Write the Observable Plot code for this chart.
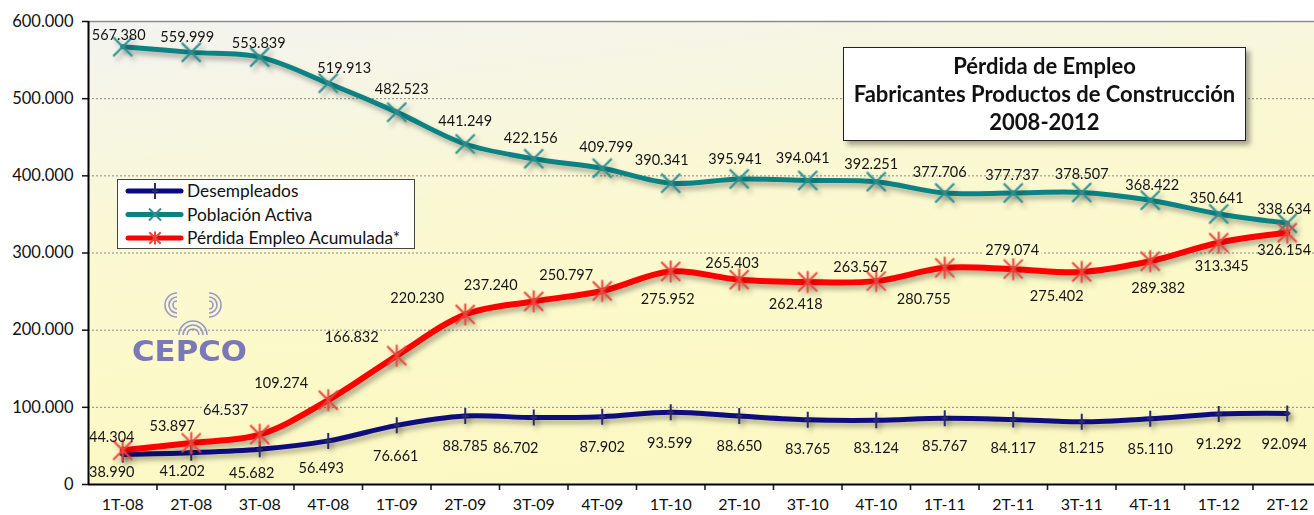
<!DOCTYPE html>
<html><head><meta charset="utf-8">
<script src="https://cdn.jsdelivr.net/npm/d3@7"></script>
<script src="https://cdn.jsdelivr.net/npm/@observablehq/plot@0.6"></script>
<style>
html,body{margin:0;padding:0;background:#fff;overflow:hidden;}
#wrap{position:relative;width:1314px;height:515px;overflow:hidden;font-family:Lato,"Open Sans",sans-serif;}
#chart{position:absolute;left:0;top:0;}
#title{position:absolute;left:843px;top:47px;width:401px;height:92px;background:#fff;border:1px solid #222;
  box-shadow:4px 4px 5px rgba(0,0,0,0.35);display:flex;flex-direction:column;justify-content:center;align-items:center;
  font-weight:bold;font-size:22px;line-height:28px;color:#111;text-align:center;white-space:nowrap;}
#legend{position:absolute;left:117px;top:179px;width:296px;height:68px;background:#fff;border:1px solid #444;}
#logo{position:absolute;left:125px;top:283px;}
</style></head><body>
<div id="wrap">
  <div id="chart"></div>
  <div id="logo"></div>
  <div id="legend"></div>
  <div id="title"><div>Pérdida de Empleo</div><div>Fabricantes Productos de Construcción</div><div>2008-2012</div></div>
</div>
<script>
// ---- data ----
const categories = ["1T-08","2T-08","3T-08","4T-08","1T-09","2T-09","3T-09","4T-09","1T-10","2T-10","3T-10","4T-10","1T-11","2T-11","3T-11","4T-11","1T-12","2T-12"];
const desempleados = [38990,41202,45682,56493,76661,88785,86702,87902,93599,88650,83765,83124,85767,84117,81215,85110,91292,92094];
const poblacionActiva = [567380,559999,553839,519913,482523,441249,422156,409799,390341,395941,394041,392251,377706,377737,378507,368422,350641,338634];
const perdidaEmpleo = [44304,53897,64537,109274,166832,220230,237240,250797,275952,265403,262418,263567,280755,279074,275402,289382,313345,326154];
const yTicks = [0,100000,200000,300000,400000,500000,600000];
const seriesNames = ["Desempleados","Población Activa","Pérdida Empleo Acumulada*"];

// label placement offsets (px) relative to each point
const desLabelDx = [-11,-9,-8,-7,-1,0,-18,0,-1,0,0,0,0,0,0,0,0,-3];
const desLabelDy = [18,19,24,27,31,30,31,31,31,30,29,28,28,29,27,31,30,31];
const pobLabelDx = [-4,-4,-1,16,5,0,-3,4,-9,-4,-5,-5,-5,-1,0,2,-2,-3];
const pobLabelDy = [-11,-15,-14,-15,-23,-23,-20,-21,-23,-20,-22,-17,-21,-18,-18,-15,-16,-14];
const perLabelDx = [-11,-19,-34,-47,-45,-48,-43,-36,-3,-7,-12,-16,-21,-1,-25,8,3,-3];
const perLabelDy = [-13,-17,-24,-17,-18,-16,-16,-16,28,-16,22,-14,32,-19,24,27,24,18];
const perLabelHalo = [0,0,1,0,0,0,0,0,0,0,0,0,0,1,0,0,0,0];

const colors = {des:"#0a0a80", pob:"#0a8282", per:"#ff0000"};
const markerColors = {des:"#2a2a6c", pob:"#2f8e8e", per:"#e8453c"};

// ---- symbols ----
const symX = {draw(ctx, size){const r=Math.sqrt(size/Math.PI); ctx.moveTo(-r,-r);ctx.lineTo(r,r);ctx.moveTo(-r,r);ctx.lineTo(r,-r);}};
const symAst = {draw(ctx, size){const r=Math.sqrt(size/Math.PI); const a=r*0.95; ctx.moveTo(-a,-a);ctx.lineTo(a,a);ctx.moveTo(-a,a);ctx.lineTo(a,-a);ctx.moveTo(0,-r*1.1);ctx.lineTo(0,r*1.1);}};
const symTick = {draw(ctx, size){const r=Math.sqrt(size/Math.PI); ctx.moveTo(0,-r);ctx.lineTo(0,r);ctx.moveTo(-r*0.4,0);ctx.lineTo(r*0.4,0);}};

const mk = (vals) => vals.map((v,i)=>({i:i+0.5, v, cat:categories[i]}));
const desData = mk(desempleados), pobData = mk(poblacionActiva), perData = mk(perdidaEmpleo);
const fmt = v => d3.format(",")(v).replace(/,/g,".");

function labels(data, dxs, dys, halo){
  return data.map((d,k)=>Plot.text([d],{x:"i",y:"v",text:dd=>fmt(dd.v),dx:dxs[k],dy:dys[k],fontSize:14.5,fill:"#151515",
    ...(halo && halo[k] ? {stroke:"#fbf9ce",strokeWidth:6} : {})}));
}

const chart = Plot.plot({
  width:1314, height:515,
  marginTop:21, marginBottom:31, marginLeft:88, marginRight:0,
  style:{fontFamily:"Lato, 'Open Sans', sans-serif", color:"#111", background:"transparent", overflow:"hidden"},
  x:{domain:[0,18], range:[88,1321], label:null},
  y:{domain:[0,600000], label:null},
  marks:[
    Plot.frame({fill:"url(#bgGrad)", stroke:null}),
    Plot.ruleY(yTicks.filter(t=>t>0 && t<600000),{stroke:"#8a8a8a",strokeWidth:1,strokeDasharray:"2,2"}),
    Plot.ruleY([600000],{stroke:"#8c8c8c",strokeWidth:1.5}),
    Plot.axisY({ticks:yTicks, tickFormat:fmt, tickSize:6, tickPadding:9, fontSize:16.5, strokeWidth:1.5, stroke:"#111", label:null}),
    Plot.axisX({ticks:d3.range(1,19), tickFormat:()=>"", tickSize:6, strokeWidth:1.6, stroke:"#222", label:null}),
    Plot.axisX({ticks:categories.map((_,i)=>i+0.5), tickFormat:d=>categories[Math.floor(d)], tickSize:0, tickPadding:14, fontSize:16, label:null}),
    Plot.ruleX([0],{stroke:"#000",strokeWidth:2}),
    Plot.ruleY([0],{stroke:"#000",strokeWidth:2}),
    // series
    Plot.line(desData,{x:"i",y:"v",stroke:colors.des,strokeWidth:5,curve:"catmull-rom"}),
    Plot.dot(desData,{x:"i",y:"v",symbol:symTick,r:8,stroke:markerColors.des,strokeWidth:2,fill:"none"}),
    Plot.line(pobData,{x:"i",y:"v",stroke:colors.pob,strokeWidth:5,curve:"catmull-rom"}),
    Plot.dot(pobData,{x:"i",y:"v",symbol:symX,r:9.5,stroke:markerColors.pob,strokeWidth:2.2,fill:"none"}),
    Plot.line(perData,{x:"i",y:"v",stroke:colors.per,strokeWidth:6,curve:"catmull-rom"}),
    Plot.dot(perData,{x:"i",y:"v",symbol:symAst,r:10,stroke:markerColors.per,strokeWidth:2,fill:"none"}),
    ...labels(desData,desLabelDx,desLabelDy),
    ...labels(pobData,pobLabelDx,pobLabelDy),
    ...labels(perData,perLabelDx,perLabelDy,perLabelHalo)
  ]
});
document.getElementById("chart").appendChild(chart);

// defs: gradient and shadow
const svg = d3.select(chart);
const defs = svg.insert("defs",":first-child");
const grad = defs.append("linearGradient").attr("id","bgGrad").attr("x1","0").attr("y1","0").attr("x2","0.3").attr("y2","1");
[["0","#f3f3f1"],["0.45","#faf8d2"],["0.75","#fcf9c8"],["1","#fcf8c3"]].forEach(([o,c])=>grad.append("stop").attr("offset",o).attr("stop-color",c));
const f = defs.append("filter").attr("id","shadow").attr("filterUnits","userSpaceOnUse").attr("x",0).attr("y",0).attr("width",1400).attr("height",600);
f.append("feDropShadow").attr("dx",3).attr("dy",4).attr("stdDeviation",2.5).attr("flood-color","#000").attr("flood-opacity",0.3);
svg.selectAll('g[aria-label="line"]').attr("filter","url(#shadow)");
svg.selectAll('g[aria-label="dot"]').attr("filter","url(#shadow)");

// legend
const leg = d3.select("#legend").append("svg").attr("width",296).attr("height",68);
const legItems = [
  {name:seriesNames[0], c:colors.des, m:markerColors.des, sym:symTick, r:8, w:5},
  {name:seriesNames[1], c:colors.pob, m:markerColors.pob, sym:symX, r:6, w:5},
  {name:seriesNames[2], c:colors.per, m:markerColors.per, sym:symAst, r:6, w:5}
];
legItems.forEach((it,k)=>{
  const y = 11 + k*23.5;
  const g = leg.append("g");
  g.append("line").attr("x1",10).attr("x2",63).attr("y1",y).attr("y2",y).attr("stroke",it.c).attr("stroke-width",it.w).attr("stroke-linecap","round");
  g.append("path").attr("transform",`translate(37,${y})`).attr("d",d3.symbol(it.sym, Math.PI*it.r*it.r)()).attr("stroke",it.m).attr("stroke-width",2).attr("fill","none");
  g.append("text").attr("x",69).attr("y",y).attr("dy","0.35em").attr("font-size",17.3).attr("fill","#111")
    .attr("font-family","Lato, 'Open Sans', sans-serif").text(it.name);
});

// logo
const logo = d3.select("#logo").append("svg").attr("width",130).attr("height",85);
const lg = logo.append("g").attr("fill","none").attr("stroke","#9a98c8").attr("stroke-width",1.6);
[14,10,6].forEach(r=>lg.append("path").attr("d",`M${68-r},${52} A${r},${r} 0 0 1 ${68+r},${52}`));
[12,8,4].forEach(r=>lg.append("path").attr("d",`M${56},${10+ (12-r)} A${r},${r} 0 0 0 ${56},${34-(12-r)}`).attr("transform","translate(-4,0)"));
[12,8,4].forEach(r=>lg.append("path").attr("d",`M${80},${10+(12-r)} A${r},${r} 0 0 1 ${80},${34-(12-r)}`).attr("transform","translate(4,0)"));
logo.append("text").attr("x",7).attr("y",78).attr("font-family","'DejaVu Sans', sans-serif").attr("font-weight","bold")
  .attr("font-size",29).attr("fill","#7a78b6").attr("textLength",115).attr("lengthAdjust","spacingAndGlyphs").text("CEPCO");
</script>
</body></html>
